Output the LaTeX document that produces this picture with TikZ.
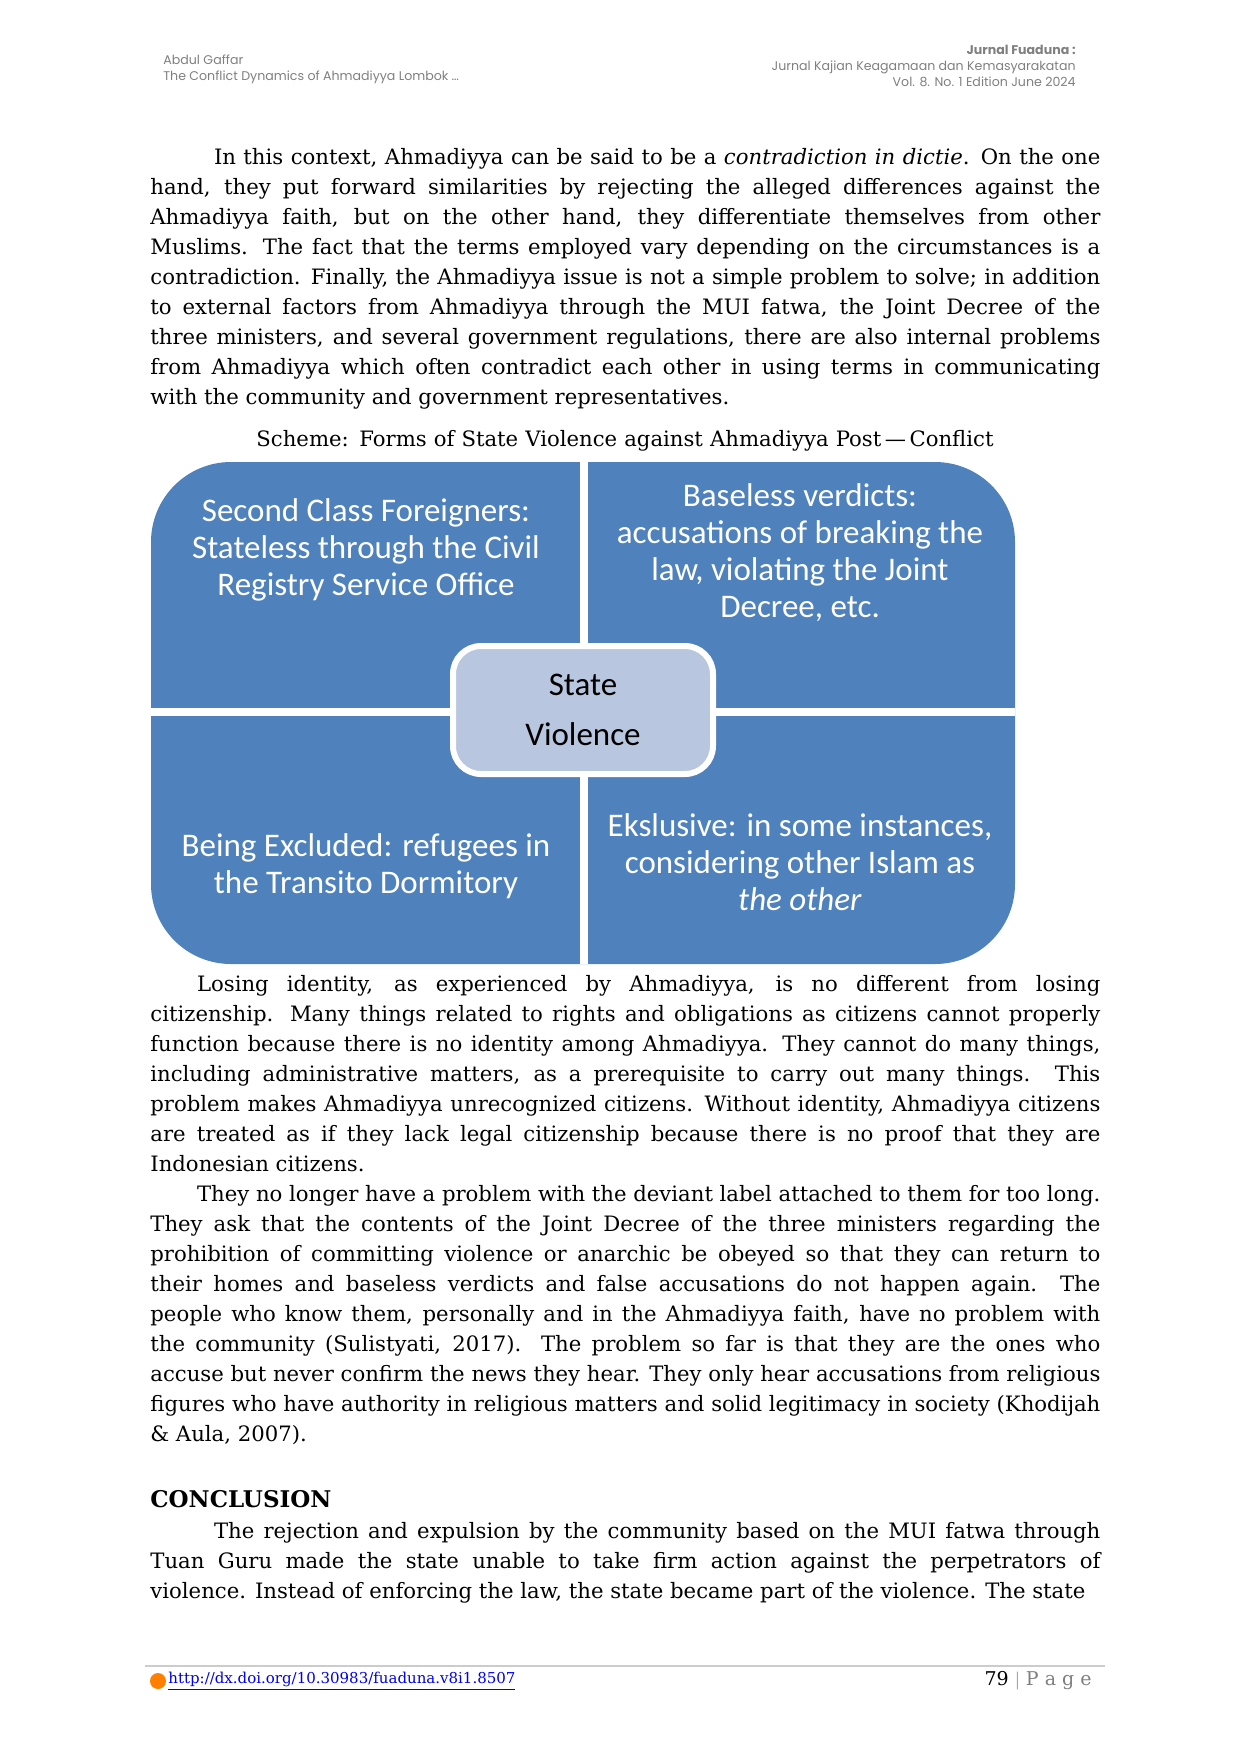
\documentclass[tikz,border=0pt]{standalone}
\usepackage{fontspec}
\setmainfont{DejaVu Serif}
\setsansfont{Carlito}
\newfontfamily\headfont{Poppins}
\usetikzlibrary{positioning}
\definecolor{quadblue}{HTML}{4F81BD}
\definecolor{coreblue}{HTML}{B9C6E0}
\definecolor{greytext}{HTML}{7F7F7F}
\definecolor{linkblue}{HTML}{0000EE}
\begin{document}
\begin{tikzpicture}[x=0.5pt,y=-0.5pt]
\tikzset{
  body/.style={anchor=north west,text width=475pt,align=justify,inner sep=0pt,
    font=\fontsize{10.6}{15}\selectfont},
  quadtext/.style={text=white,font=\sffamily\fontsize{16.5}{18.5}\selectfont,align=center,inner sep=0pt},
  head/.style={font=\headfont\fontsize{6.3}{8}\selectfont,text=greytext,inner sep=0pt}
}
\path[use as bounding box] (0,0) rectangle (1240,1753);
% header
\node[head,anchor=north west,align=left] (hl) at (163,54) {Abdul Gaffar\\The Conflict Dynamics of Ahmadiyya Lombok \dots};
\node[head,anchor=north east,align=right] (hr) at (1076,45) {\textbf{Jurnal Fuaduna :}\\Jurnal Kajian Keagamaan dan Kemasyarakatan\\Vol. 8. No. 1 Edition June 2024};
% text above
\node[body] (p1) at (150,148) {\hspace*{3em}In this context, Ahmadiyya can be said to be a \emph{contradiction in dictie}. On the one\linebreak hand, they put forward similarities by rejecting the alleged differences against the\linebreak Ahmadiyya faith, but on the other hand, they differentiate themselves from other\linebreak Muslims. The fact that the terms employed vary depending on the circumstances is a\linebreak contradiction. Finally, the Ahmadiyya issue is not a simple problem to solve; in addition\linebreak to external factors from Ahmadiyya through the MUI fatwa, the Joint Decree of the\linebreak three ministers, and several government regulations, there are also internal problems\linebreak from Ahmadiyya which often contradict each other in using terms in communicating\linebreak with the community and government representatives.};
\node[body,align=center,anchor=north] (cap) at (625,430) {Scheme: Forms of State Violence against Ahmadiyya Post\,—\,Conflict};
% scheme
\path[fill=quadblue,rounded corners=40] (151,462) rectangle (1015,964);
\draw[white,line width=4] (584,462) -- (584,964);
\draw[white,line width=4] (151,712) -- (1015,712);
\node[quadtext] (q1) at (366,550) {Second Class Foreigners:\\Stateless through the Civil\\Registry Service Office};
\node[quadtext] (q2) at (800,553) {Baseless verdicts:\\accusations of breaking the\\law, violating the Joint\\Decree, etc.};
\node[quadtext] (q3) at (366,866) {Being Excluded: refugees in\\the Transito Dormitory};
\node[quadtext] (q4) at (800,862) {Ekslusive: in some instances,\\considering other Islam as\\\emph{the other}};
\node[draw=white,line width=3,fill=coreblue,rounded corners=14,minimum width=130pt,minimum height=64pt,
  font=\sffamily\fontsize{16.5}{25}\selectfont,align=center] (core) at (583,710) {State\\Violence};
% text below
\node[body] (p2) at (150,975) {\hspace*{2.2em}Losing identity, as experienced by Ahmadiyya, is no different from losing\linebreak citizenship. Many things related to rights and obligations as citizens cannot properly\linebreak function because there is no identity among Ahmadiyya. They cannot do many things,\linebreak including administrative matters, as a prerequisite to carry out many things. This\linebreak problem makes Ahmadiyya unrecognized citizens. Without identity, Ahmadiyya citizens\linebreak are treated as if they lack legal citizenship because there is no proof that they are\linebreak Indonesian citizens.\par
\hspace*{2.2em}They no longer have a problem with the deviant label attached to them for too long.\linebreak They ask that the contents of the Joint Decree of the three ministers regarding the\linebreak prohibition of committing violence or anarchic be obeyed so that they can return to\linebreak their homes and baseless verdicts and false accusations do not happen again. The\linebreak people who know them, personally and in the Ahmadiyya faith, have no problem with\linebreak the community (Sulistyati, 2017). The problem so far is that they are the ones who\linebreak accuse but never confirm the news they hear. They only hear accusations from religious\linebreak figures who have authority in religious matters and solid legitimacy in society (Khodijah\linebreak \& Aula, 2007).};
\node[body,font=\bfseries\fontsize{11.5}{15}\selectfont,text width=200pt] (ch) at (150,1490) {CONCLUSION};
\node[body] (p4) at (150,1522) {\hspace*{3em}The rejection and expulsion by the community based on the MUI fatwa through\linebreak Tuan Guru made the state unable to take firm action against the perpetrators of\linebreak violence. Instead of enforcing the law, the state became part of the violence. The state};
% footer
\draw[greytext!40,line width=1] (145,1666) -- (1105,1666);
\node[circle,fill=orange,inner sep=0pt,minimum size=8pt] (logo) at (158,1681) {};
\node[anchor=west,inner sep=0pt,font=\fontsize{7.5}{9}\selectfont,text=linkblue] (doi) at (168,1681) {\underline{http://dx.doi.org/10.30983/fuaduna.v8i1.8507}};
\node[anchor=east,inner sep=0pt,font=\fontsize{9.5}{11}\selectfont] (pg) at (1092,1681) {79 {\color{greytext}$|$ P a g e}};
\end{tikzpicture}
\end{document}
